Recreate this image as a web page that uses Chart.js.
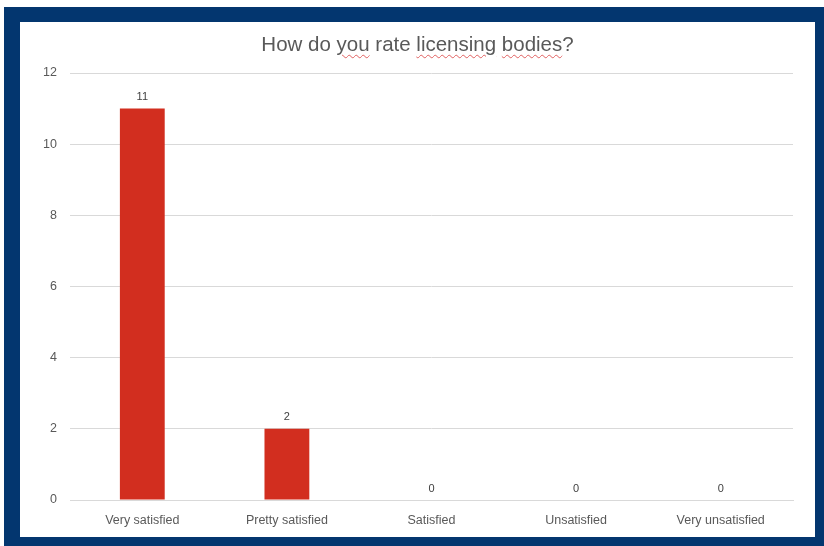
<!DOCTYPE html>
<html lang="en">
<head>
<meta charset="UTF-8">
<title>How do you rate licensing bodies?</title>
<script src="https://cdn.jsdelivr.net/npm/chart.js"></script>
<style>
  html, body {
    margin: 0;
    padding: 0;
    width: 824px;
    height: 546px;
    overflow: hidden;
    background: #fff;
  }
  #frame {
    position: absolute;
    left: 4px;
    top: 7px;
    width: 820px;
    height: 539px;
    background: #03366f;
  }
  #inner {
    position: absolute;
    left: 20px;
    top: 22px;
    width: 795px;
    height: 515px;
    background: #fff;
  }
  #title {
    position: absolute;
    left: 0;
    top: 10px;
    width: 100%;
    text-align: center;
    font-family: "Liberation Sans", sans-serif;
    font-size: 20.5px;
    color: #595959;
  }
  .typo {
    text-decoration: underline wavy #e06060;
    text-decoration-thickness: 1px;
    text-underline-offset: 3px;
  }
  #chart {
    position: absolute;
    left: 0;
    top: 0;
  }
</style>
</head>
<body>
  <div id="frame"></div>
  <div id="inner">
    <canvas id="chart" width="795" height="515"></canvas>
    <div id="title">How do <span class="typo">you</span> rate <span class="typo">licensing</span> <span class="typo">bodies</span>?</div>
  </div>
  <script>
    const categories = ['Very satisfied', 'Pretty satisfied', 'Satisfied', 'Unsatisfied', 'Very unsatisfied']
    const counts = [11, 2, 0, 0, 0]
    const barColor = '#d22e1f'
    const textColor = '#595959'

    // values written over each bar
    const valueLabels = {
      id: 'valueLabels',
      afterDatasetsDraw(chart) {
        const ctx = chart.ctx
        const meta = chart.getDatasetMeta(0)
        ctx.save()
        ctx.font = '11px "Liberation Sans", sans-serif'
        ctx.fillStyle = '#404040'
        ctx.textAlign = 'center'
        ctx.textBaseline = 'bottom'
        meta.data.forEach((bar, i) => {
          ctx.fillText(counts[i], bar.x, bar.y - 6)
        })
        ctx.restore()
      }
    }

    new Chart(document.getElementById('chart'), {
      type: 'bar',
      data: {
        labels: categories,
        datasets: [{
          data: counts,
          backgroundColor: barColor,
          categoryPercentage: 1,
          barPercentage: 0.31,
        }]
      },
      options: {
        responsive: false,
        animation: false,
        layout: { padding: { top: 51, right: 22, left: 0, bottom: 0 } },
        scales: {
          x: {
            grid: { display: false },
            border: { color: '#d9d9d9' },
            ticks: { color: textColor, font: { family: 'Liberation Sans', size: 12.5 }, padding: 5 },
            afterFit(axis) { axis.height = 37 }
          },
          y: {
            min: 0,
            max: 12,
            grid: { color: '#d9d9d9', drawTicks: false },
            border: { display: false },
            ticks: { stepSize: 2, color: textColor, font: { family: 'Liberation Sans', size: 12.5 }, padding: 13 },
            afterFit(axis) { axis.width = 50 }
          }
        },
        plugins: {
          legend: { display: false },
          tooltip: { enabled: false }
        }
      },
      plugins: [valueLabels]
    })
  </script>
</body>
</html>
